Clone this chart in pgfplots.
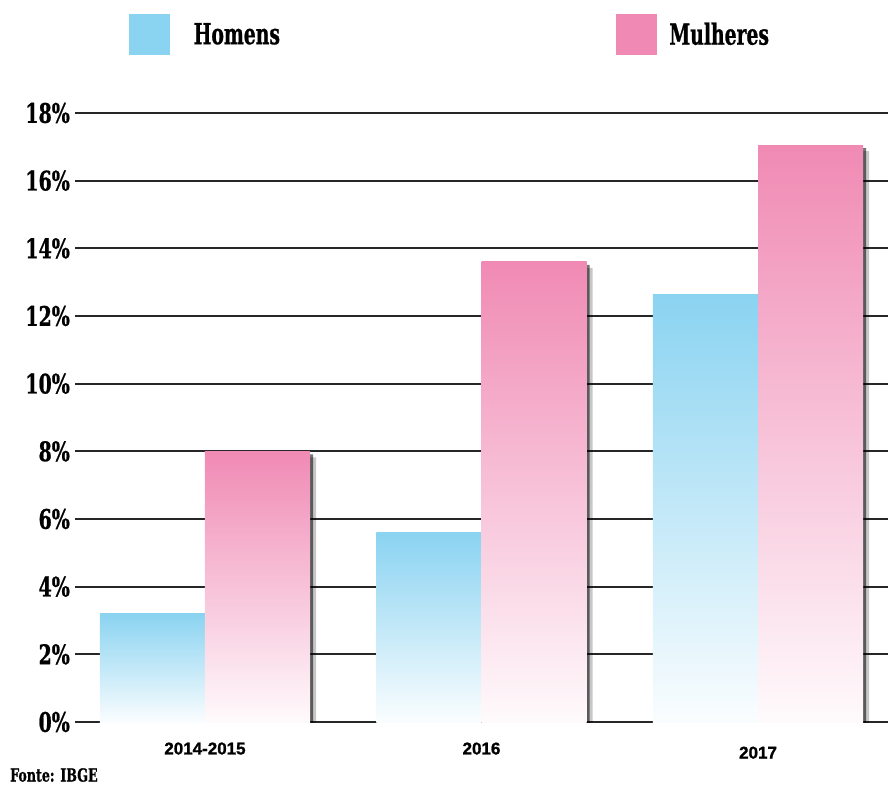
\documentclass[border=0pt]{standalone}
\usepackage{fontspec}
\usepackage{pgfplots}
\pgfplotsset{compat=1.18}
\setmainfont{Liberation Sans}
\newfontfamily\heavy{Liberation Sans}[FakeBold=1.2]
\newfontfamily\slab{DejaVu Serif Condensed}[FakeStretch=0.78, FakeBold=0.8]
\newfontfamily\slableg{DejaVu Serif Condensed}[FakeStretch=0.72, FakeBold=0.8]
\definecolor{hblue}{HTML}{8AD3F1}
\definecolor{mpink}{HTML}{F08AB4}
\begin{document}
\begin{tikzpicture}
\useasboundingbox (0,0) rectangle (888pt,785pt);
\begin{axis}[
  at={(75pt,63pt)}, anchor=south west,
  scale only axis, width=813pt, height=609pt,
  xmin=-0.47, xmax=2.47, ymin=0, ymax=18,
  axis line style={draw=none},
  major tick length=0pt,
  ytick={0,2,...,18},
  yticklabels={0\%,2\%,4\%,6\%,8\%,10\%,12\%,14\%,16\%,18\%},
  ymajorgrids, major grid style={black!85, line width=2pt},
  xtick={0,1,2},
  xticklabels={2014-2015,2016,\rule{0pt}{16pt}2017},
  yticklabel style={font=\slab\bfseries\fontsize{27}{27}\selectfont, inner sep=0pt, xshift=-5pt},
  xticklabel style={font=\heavy\bfseries\fontsize{17}{17}\selectfont, yshift=-17pt},
  ybar, bar width=0.38,
  legend columns=2,
  legend style={at={(0.0665,1.1626)}, anchor=north west, draw=none, fill=none, inner sep=0pt,
    font=\slableg\bfseries\fontsize{29}{29}\selectfont,
    /tikz/column 1/.append style={column sep=22pt},
    /tikz/column 2/.append style={column sep=334pt},
    /tikz/column 3/.append style={column sep=11pt}},
]
% legend
\addlegendimage{legend image code/.code={\fill[hblue] (0pt,-20pt) rectangle (40pt,20pt);}}
\addlegendentry{Homens}
\addlegendimage{legend image code/.code={\fill[mpink] (0pt,-20pt) rectangle (40pt,20pt);}}
\addlegendentry{Mulheres}
% shadows
\addplot[forget plot, bar shift=-0.19, fill=black, draw=none, opacity=0.22, xshift=6pt, yshift=-6pt]
  coordinates {(0,3.2) (1,5.6) (2,12.65)};
\addplot[forget plot, bar shift=-0.19, fill=black, draw=none, opacity=0.55, xshift=3pt, yshift=-3pt]
  coordinates {(0,3.2) (1,5.6) (2,12.65)};
\addplot[forget plot, bar shift=0.19, fill=black, draw=none, opacity=0.22, xshift=6pt, yshift=-6pt]
  coordinates {(0,8.0) (1,13.6) (2,17.05)};
\addplot[forget plot, bar shift=0.19, fill=black, draw=none, opacity=0.55, xshift=3pt, yshift=-3pt]
  coordinates {(0,8.0) (1,13.6) (2,17.05)};
% Homens bars
\addplot[forget plot, bar shift=-0.19, draw=none, top color=hblue, bottom color=hblue!4] coordinates {(0,3.2)};
\addplot[forget plot, bar shift=-0.19, draw=none, top color=hblue, bottom color=hblue!4] coordinates {(1,5.6)};
\addplot[forget plot, bar shift=-0.19, draw=none, top color=hblue, bottom color=hblue!4] coordinates {(2,12.65)};
% Mulheres bars
\addplot[forget plot, bar shift=0.19, draw=none, top color=mpink, bottom color=mpink!4] coordinates {(0,8.0)};
\addplot[forget plot, bar shift=0.19, draw=none, top color=mpink, bottom color=mpink!4] coordinates {(1,13.6)};
\addplot[forget plot, bar shift=0.19, draw=none, top color=mpink, bottom color=mpink!4] coordinates {(2,17.05)};
\end{axis}
\node[anchor=west, inner sep=0pt, font=\slab\bfseries\fontsize{18}{18}\selectfont] at (10pt,10pt) {Fonte: IBGE};
\end{tikzpicture}
\end{document}
